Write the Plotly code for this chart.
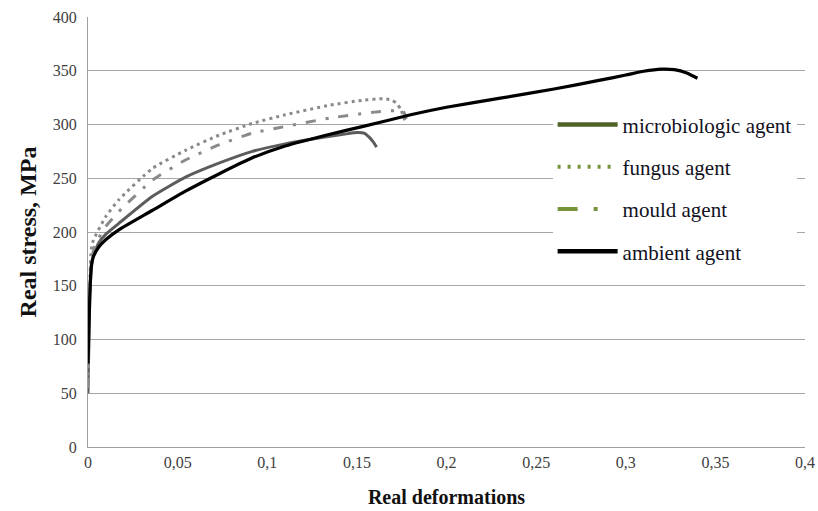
import plotly.graph_objects as go

# ---- data ----
ambient_x = [0, 0.0005, 0.001, 0.0015, 0.002, 0.003, 0.006, 0.01, 0.0172, 0.0358, 0.0544,
             0.073, 0.0917, 0.11, 0.135, 0.153, 0.18, 0.2, 0.23, 0.26, 0.285, 0.3, 0.31,
             0.32, 0.327, 0.334, 0.34]
ambient_y = [78, 110, 140, 160, 170, 177, 186, 193, 202, 220, 238,
             254, 269, 280, 291, 298, 309, 316, 324.5, 333, 341, 346, 349.5,
             351.5, 351, 348, 343]

micro_x = [0, 0.0005, 0.001, 0.002, 0.003, 0.006, 0.01, 0.0172, 0.0358, 0.0544, 0.073,
           0.0917, 0.11, 0.135, 0.145, 0.15, 0.154, 0.157, 0.159, 0.161]
micro_y = [50, 100, 140, 168, 178, 190, 198, 208, 233, 251, 264,
           275, 282, 289, 291.5, 292.5, 292, 288, 284, 279]

fungus_x = [0.0, 0.0005, 0.001, 0.0023, 0.0098, 0.0172, 0.0358, 0.0544, 0.073, 0.0917,
            0.11, 0.135, 0.153, 0.1646, 0.169, 0.172, 0.1745, 0.1767]
fungus_y = [60, 110, 150, 189, 214, 230, 259, 276, 290, 301,
            309, 318, 322.5, 324, 323, 320, 314, 304]

mould_x = [0, 0.0005, 0.001, 0.002, 0.004, 0.0098, 0.0172, 0.0358, 0.0544, 0.073, 0.0917,
           0.1065, 0.135, 0.163, 0.1758, 0.1775]
mould_y = [55, 105, 145, 175, 188, 205, 219, 248, 267, 281, 292,
           297, 306, 312, 312.5, 305]

series_names = ["microbiologic agent", "fungus agent", "mould agent", "ambient agent"]
x_tick_vals = [0, 0.05, 0.1, 0.15, 0.2, 0.25, 0.3, 0.35, 0.4]
x_tick_text = ["0", "0,05", "0,1", "0,15", "0,2", "0,25", "0,3", "0,35", "0,4"]
y_tick_vals = [0, 50, 100, 150, 200, 250, 300, 350, 400]

SERIF = "Liberation Serif, Times New Roman, serif"

fig = go.Figure()

# curves (grey, as drawn)
fig.add_trace(go.Scatter(x=micro_x, y=micro_y, mode="lines", showlegend=False,
                         line=dict(color="#5c5c5c", width=3, shape="spline", smoothing=0.5)))
fig.add_trace(go.Scatter(x=fungus_x, y=fungus_y, mode="lines", showlegend=False,
                         line=dict(color="#8a8a8a", width=3, dash="3px,4px", shape="spline", smoothing=0.5)))
fig.add_trace(go.Scatter(x=mould_x, y=mould_y, mode="lines", showlegend=False,
                         line=dict(color="#8a8a8a", width=3, dash="10px,10px,3px,10px", shape="spline", smoothing=0.5)))
fig.add_trace(go.Scatter(x=ambient_x, y=ambient_y, mode="lines", showlegend=False,
                         line=dict(color="#000000", width=3.2, shape="spline", smoothing=0.5)))

# legend entries (green, as in the reference legend)
legend_styles = [
    dict(color="#4f6228", width=4.5, dash="solid"),
    dict(color="#77933c", width=4, dash="3px,7px"),
    dict(color="#77933c", width=4, dash="20px,16px,4px,30px"),
    dict(color="#000000", width=4.5, dash="solid"),
]
for i, (name, st) in enumerate(zip(series_names, legend_styles)):
    fig.add_trace(go.Scatter(x=[None], y=[None], mode="lines", name=name,
                             legendgroup=f"g{i}", line=st))

fig.update_layout(
    width=818, height=511,
    margin=dict(l=88, r=13, t=17, b=64, autoexpand=False),
    paper_bgcolor="white", plot_bgcolor="white",
    font=dict(family=SERIF, size=16, color="#404040"),
    legend=dict(x=0.648, y=0.797, xanchor="left", yanchor="top",
                bgcolor="white", itemwidth=60, tracegroupgap=12,
                font=dict(family=SERIF, size=21, color="#111122")),
    xaxis=dict(range=[0, 0.4], tickvals=x_tick_vals, ticktext=x_tick_text,
               showgrid=False, showline=True, linecolor="#a0a0a0", linewidth=1,
               zeroline=False, ticks="", ticklabelstandoff=1, automargin=False,
               title=dict(text="<b>Real deformations</b>", standoff=19,
                          font=dict(family=SERIF, size=20, color="#111111"))),
    yaxis=dict(range=[0, 400], tickvals=y_tick_vals,
               showgrid=True, gridcolor="#a6a6a6", gridwidth=1,
               showline=True, linecolor="#a0a0a0", linewidth=1,
               zeroline=False, ticks="", ticklabelstandoff=7, automargin=False,
               title=dict(text="<b>Real stress, MPa</b>", standoff=9,
                          font=dict(family=SERIF, size=24, color="#111111"))),
)

fig.write_html("out.html", config={"displayModeBar": False},
               post_script="document.body.style.margin='0';")
